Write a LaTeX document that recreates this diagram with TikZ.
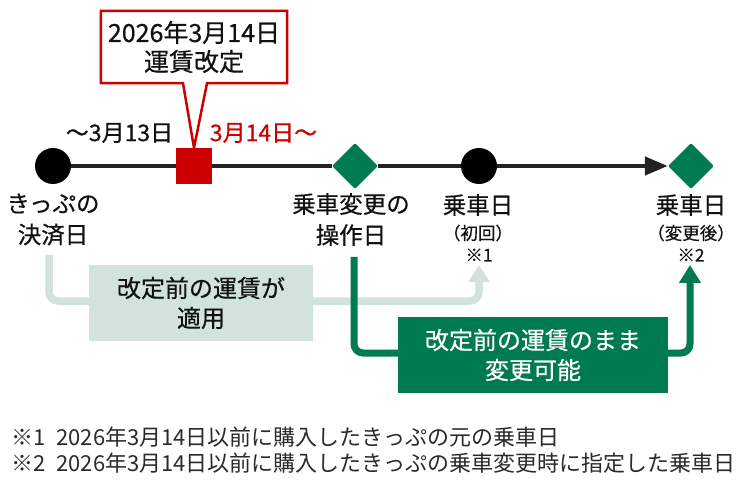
\documentclass[tikz,border=0pt]{standalone}
\usepackage{fontspec}
\setmainfont{Noto Sans CJK JP}
\newfontfamily\jpm{Noto Sans CJK JP}[FakeBold=0.5]
\usetikzlibrary{arrows.meta,shapes.geometric}
\definecolor{jrred}{HTML}{CC0000}
\definecolor{jrgreen}{HTML}{007A50}
\definecolor{jrlight}{HTML}{D1E3DC}
\definecolor{tline}{HTML}{222222}
\definecolor{ink}{HTML}{111111}
\definecolor{fnink}{HTML}{2A2A2A}
\begin{document}
\begin{tikzpicture}[x=1pt,y=-1pt,
  dot/.style={circle, fill=black, minimum size=36pt, inner sep=0pt},
  revsq/.style={rectangle, fill=jrred, minimum size=36pt, inner sep=0pt},
  dia/.style={diamond, fill=jrgreen, minimum width=46pt, minimum height=46pt, inner sep=0pt, rounded corners=1.5pt},
  tl/.style={draw=tline, line width=4.5pt},
  lbl/.style={font=\jpm\fontsize{23.5}{31}\selectfont, align=center, text=ink, inner sep=0pt},
  sml/.style={font=\jpm\fontsize{17.5}{20}\selectfont, text=ink, inner sep=0pt},
  datelbl/.style={font=\jpm\fontsize{23}{28}\selectfont, inner sep=0pt},
  lp/.style={draw=jrlight, line width=7.5pt, rounded corners=9pt, -{Triangle[length=17pt,width=21pt]}},
  dp/.style={draw=jrgreen, line width=7pt, rounded corners=9pt, -{Triangle[length=18pt,width=21pt]}},
  boxtxt/.style={font=\jpm\fontsize{24}{30}\selectfont, align=center, inner sep=0pt, minimum height=76pt},
  fn/.style={anchor=west, font=\fontsize{22}{26}\selectfont, text=fnink, inner sep=0pt}
]
\useasboundingbox (0,0) rectangle (750,481);

% timeline nodes
\node[dot] (c1) at (53,166) {};
\node[revsq] (sq) at (194,166) {};
\node[dia] (d1) at (355,166) {};
\node[dot] (c2) at (479,166) {};
\node[dia] (d2) at (691,166) {};
\draw[tl] (c1) -- (sq);
\draw[tl] (sq) -- (d1);
\draw[tl] (d1) -- (c2);
\draw[tl, -{Triangle[length=23pt,width=18pt]}] (c2) -- (d2);

% date labels
\node[datelbl, text=ink] (before) at (119.5,133) {〜3月13日};
\node[datelbl, text=jrred] (after) at (263.5,133) {3月14日〜};

% callout
\node[font=\jpm\fontsize{25}{29}\selectfont, align=center, text=ink, minimum width=186pt, minimum height=72pt, inner sep=0pt] (kaitei) at (194,47) {2026年3月14日\\運賃改定};
\draw[jrred, line width=2.5pt, line join=miter] (kaitei.south west) -- (kaitei.north west) -- (kaitei.north east) -- (kaitei.south east) -- ([xshift=13pt]kaitei.south) -- (sq.north) -- ([xshift=-11pt]kaitei.south) -- cycle;

% labels under timeline
\node[lbl] (kessai) at (53,219.5) {きっぷの\\決済日};
\node[lbl] (sousa) at (351,219.5) {乗車変更の\\操作日};
\node[lbl] (ride1) at (478,205) {乗車日};
\node[sml] (ride1a) at (478,233) {（初回）};
\node[sml] (ride1b) at (479,255) {※1};
\node[lbl] (ride2) at (691,205) {乗車日};
\node[sml] (ride2a) at (691,233) {（変更後）};
\node[sml] (ride2b) at (691,255) {※2};

% light path and box
\coordinate (ls) at (49,255);
\coordinate (le) at (479,265);
\coordinate (lrow) at (0,301);
\draw[lp] (ls) -- (ls |- lrow) -- (le |- lrow) -- (le);
\node[boxtxt, fill=jrlight, text=ink, minimum width=224pt] (lbox) at (201,303) {改定前の運賃が\\適用};

% dark path and box
\coordinate (ds) at (354,257);
\coordinate (de) at (690,265);
\coordinate (drow) at (0,353);
\draw[dp] (ds) -- (ds |- drow) -- (de |- drow) -- (de);
\node[boxtxt, fill=jrgreen, text=white, minimum width=270pt] (dbox) at (533,355) {改定前の運賃のまま\\変更可能};

% footnotes
\node[fn] (fn1) at (11,437) {※1\hspace{0.5em}2026年3月14日以前に購入したきっぷの元の乗車日};
\node[fn] (fn2) at (11,463) {※2\hspace{0.5em}2026年3月14日以前に購入したきっぷの乗車変更時に指定した乗車日};
\end{tikzpicture}
\end{document}
